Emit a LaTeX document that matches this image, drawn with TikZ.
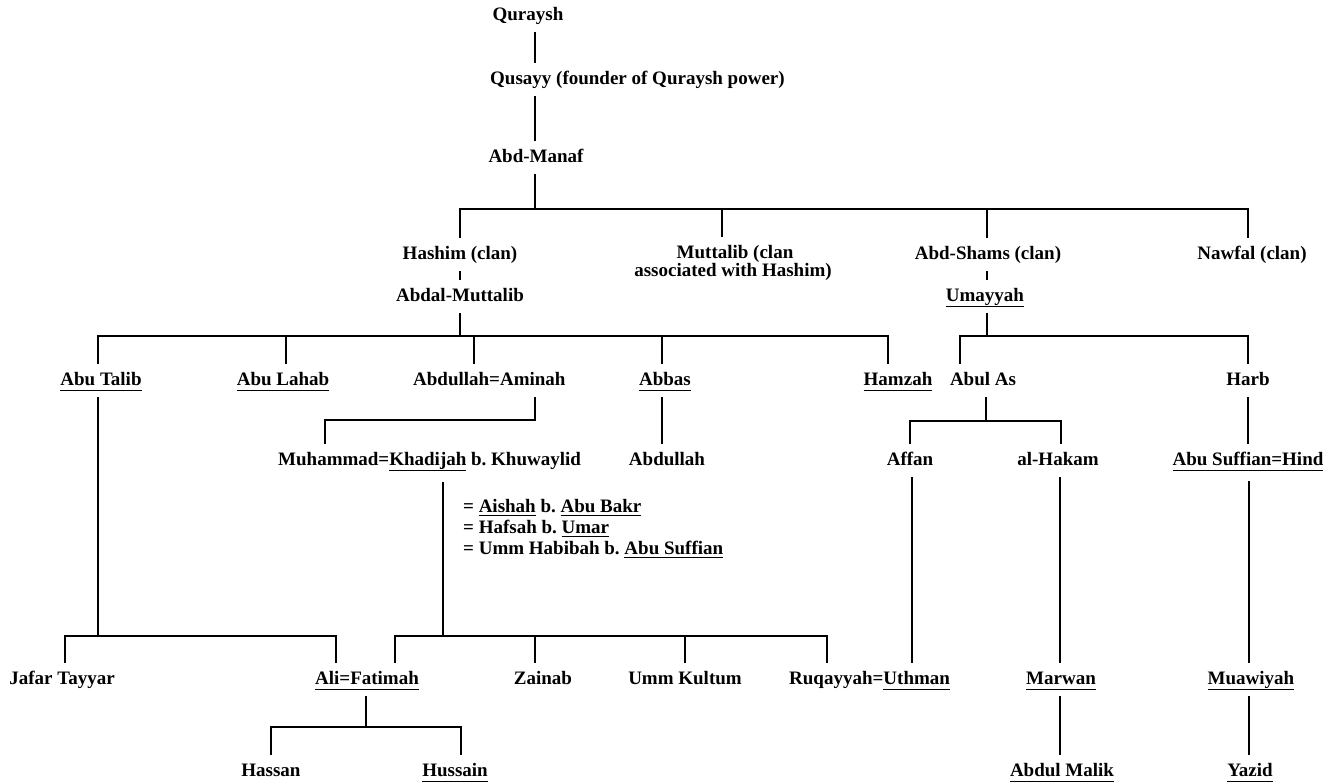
\documentclass[tikz,border=0pt]{standalone}
\usepackage{fontspec}
\setmainfont{Liberation Serif}
\frenchspacing
\newcommand\ulx[1]{\setbox0\hbox{#1}\rlap{\rule[-6pt]{\wd0}{0.9pt}}\box0\relax}
\newcommand\ulxs[1]{\setbox0\hbox{#1}\rlap{\rule[-4pt]{\wd0}{0.9pt}}\box0\relax}
\begin{document}
\begin{tikzpicture}[x=1pt,y=-1pt,
  lbl/.style={font=\fontsize{19}{19}\selectfont\bfseries, inner sep=0pt, text height=13pt, text depth=4pt, outer ysep=8pt, anchor=base},
  lblw/.style={lbl, anchor=base west},
  conn/.style={line width=1.3pt}]
\useasboundingbox (0,0) rectangle (1336,782);
% nodes
\node[lbl] (quraysh) at (528,20) {Quraysh};
\node[lblw] (qusayy) at (490,84) {Qusayy (founder of Quraysh power)};
\node[lbl] (abdmanaf) at (536,162) {Abd-Manaf};
\node[lbl] (hashim) at (460,259) {Hashim (clan)};
\node[lbl] (mut1) at (735,258) {Muttalib (clan};
\node[lbl] (mut2) at (733,276) {associated with Hashim)};
\node[lbl] (abdshams) at (988,259) {Abd-Shams (clan)};
\node[lbl] (nawfal) at (1252,259) {Nawfal (clan)};
\node[lbl] (abdal) at (460,301) {Abdal-Muttalib};
\node[lbl] (umayyah) at (985,301) {\ulx{Umayyah}};
\node[lbl] (abutalib) at (101,385) {\ulx{Abu Talib}};
\node[lbl] (abulahab) at (283,385) {\ulx{Abu Lahab}};
\node[lblw] (abdullah) at (413,385) {Abdullah=Aminah};
\node[lbl] (abbas) at (665,385) {\ulx{Abbas}};
\node[lbl] (hamzah) at (898,385) {\ulx{Hamzah}};
\node[lbl] (abulas) at (983,385) {Abul As};
\node[lbl] (harb) at (1248,385) {Harb};
\node[lblw] (muhammad) at (278,465) {Muhammad=\ulx{Khadijah} b. Khuwaylid};
\node[lbl] (abdullahb) at (667,465) {Abdullah};
\node[lbl] (affan) at (910,465) {Affan};
\node[lbl] (hakam) at (1058,465) {al-Hakam};
\node[lbl] (abusuf) at (1248,465) {\ulx{Abu Suffian=Hind}};
\node[lblw] (wife1) at (463,512) {= \ulxs{Aishah} b. \ulxs{Abu Bakr}};
\node[lblw] (wife2) at (463,533) {= Hafsah b. \ulxs{Umar}};
\node[lblw] (wife3) at (463,554) {= Umm Habibah b. \ulxs{Abu Suffian}};
\node[lbl] (jafar) at (62,684) {Jafar Tayyar};
\node[lbl] (ali) at (367,684) {\ulx{Ali=Fatimah}};
\node[lbl] (zainab) at (543,684) {Zainab};
\node[lbl] (ummk) at (685,684) {Umm Kultum};
\node[lblw] (ruq) at (789,684) {Ruqayyah=\ulx{Uthman}};
\node[lbl] (marwan) at (1061,684) {\ulx{Marwan}};
\node[lbl] (muawiyah) at (1251,684) {\ulx{Muawiyah}};
\node[lbl] (hassan) at (271,776) {Hassan};
\node[lbl] (hussain) at (455,776) {\ulx{Hussain}};
\node[lbl] (abdulmalik) at (1062,776) {\ulx{Abdul Malik}};
\node[lbl] (yazid) at (1250,776) {\ulx{Yazid}};
% junction coordinates
\coordinate (cx) at (535,0);
\coordinate (bar1) at (535,209);
\coordinate (bar2) at (460,336);
\coordinate (bar2r) at (987,336);
\coordinate (bar3) at (535,420);
\coordinate (bar3r) at (986,421);
\coordinate (bar4l) at (98,636);
\coordinate (bar4r) at (443,636);
\coordinate (bar5) at (366,727);
% connectors
\draw[conn] (quraysh.south -| cx) -- (qusayy.north -| cx);
\draw[conn] (qusayy.south -| cx) -- (abdmanaf.north -| cx);
\draw[conn] (abdmanaf.south -| bar1) -- (bar1);
\draw[conn] (hashim.north -| 460,0) |- (bar1) -| (nawfal.north -| 1248,0);
\draw[conn] (bar1 -| 722,0) -- (mut1.north -| 722,0);
\draw[conn] (bar1 -| 987,0) -- (abdshams.north -| 987,0);
\draw[conn] (hashim.south -| 460,0) -- (abdal.north -| 460,0);
\draw[conn] (abdal.south -| bar2) -- (bar2);
\draw[conn] (abutalib.north -| 98,0) |- (bar2) -| (hamzah.north -| 888,0);
\draw[conn] (bar2 -| 286,0) -- (abulahab.north -| 286,0);
\draw[conn] (bar2 -| 474,0) -- (abdullah.north -| 474,0);
\draw[conn] (bar2 -| 662,0) -- (abbas.north -| 662,0);
\draw[conn] (abdshams.south -| 987,0) -- (umayyah.north -| 987,0);
\draw[conn] (umayyah.south -| bar2r) -- (bar2r);
\draw[conn] (abulas.north -| 960,0) |- (bar2r) -| (harb.north -| 1248,0);
\draw[conn] (abdullah.south -| bar3) -- (bar3) -| (muhammad.north -| 325,0);
\draw[conn] (abbas.south -| 662,0) -- (abdullahb.north -| 662,0);
\draw[conn] (abulas.south -| bar3r) -- (bar3r);
\draw[conn] (affan.north -| 910,0) |- (bar3r) -| (hakam.north -| 1061,0);
\draw[conn] (harb.south -| 1248,0) -- (abusuf.north -| 1248,0);
\draw[conn] (abutalib.south -| bar4l) -- (bar4l);
\draw[conn] (jafar.north -| 65,0) |- (bar4l) -| (ali.north -| 336,0);
\draw[conn] ([yshift=-5pt]muhammad.south -| bar4r) -- (bar4r);
\draw[conn] (ali.north -| 395,0) |- (bar4r) -| (ruq.north -| 827,0);
\draw[conn] (bar4r -| 535,0) -- (zainab.north -| 535,0);
\draw[conn] (bar4r -| 685,0) -- (ummk.north -| 685,0);
\draw[conn] (affan.south -| 912,0) -- (ruq.north -| 912,0);
\draw[conn] (hakam.south -| 1060,0) -- (marwan.north -| 1060,0);
\draw[conn] ([yshift=-4pt]abusuf.south -| 1249,0) -- (muawiyah.north -| 1249,0);
\draw[conn] (ali.south -| bar5) -- (bar5);
\draw[conn] (hassan.north -| 271,0) |- (bar5) -| (hussain.north -| 461,0);
\draw[conn] (marwan.south -| 1060,0) -- (abdulmalik.north -| 1060,0);
\draw[conn] (muawiyah.south -| 1249,0) -- (yazid.north -| 1249,0);
\end{tikzpicture}
\end{document}
